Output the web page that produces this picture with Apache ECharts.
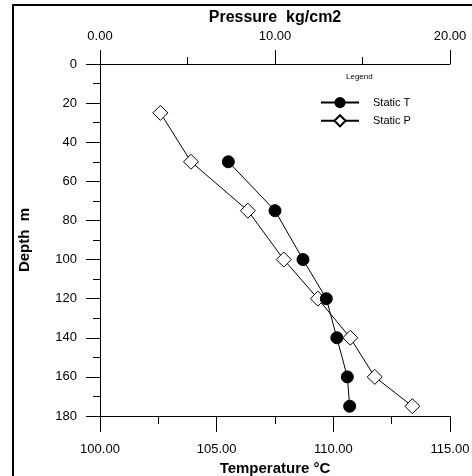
<!DOCTYPE html>
<html>
<head>
<meta charset="utf-8">
<script src="https://cdn.jsdelivr.net/npm/echarts@6/dist/echarts.min.js"></script>
<style>
html, body { margin: 0; padding: 0; background: #fff; }
#chart { width: 472px; height: 476px; }
</style>
</head>
<body>
<div id="chart"></div>
<script type="text/javascript">
// depth (m) and readings
var depthT = [50, 75, 100, 120, 140, 160, 175];
var tempT = [105.5, 107.5, 108.7, 109.7, 110.15, 110.6, 110.7];

var depthP = [25, 50, 75, 100, 120, 140, 160, 175];
var pressP = [3.45, 5.2, 8.45, 10.5, 12.45, 14.3, 15.7, 17.85];

var tempTicks = [100, 115, 5];   // min, max, step
var pressTicks = [0, 20, 10];
var depthTicks = [0, 180, 20];

var font = 'Liberation Sans, Arial, sans-serif';

function pairs(xs, ys) {
    var out = [];
    for (var i = 0; i < xs.length; i++) {
        out.push([xs[i], ys[i]]);
    }
    return out;
}

function fixed2(v) { return v.toFixed(2); }

// builds one axis, ticks outside, no grid lines
function makeAxis(opts) {
    return {
        type: 'value',
        position: opts.position,
        inverse: !!opts.inverse,
        min: opts.ticks[0],
        max: opts.ticks[1],
        interval: opts.ticks[2],
        name: opts.name,
        nameLocation: 'middle',
        nameGap: opts.nameGap,
        nameTextStyle: { color: '#000', fontWeight: 'bold', fontFamily: font, fontSize: opts.nameSize },
        splitLine: { show: false },
        axisLine: { show: true, onZero: false, lineStyle: { color: '#000', width: 1 } },
        axisTick: { show: true, inside: false, length: opts.tick, lineStyle: { color: '#000' } },
        minorTick: { show: true, splitNumber: 2, length: opts.tick / 2, lineStyle: { color: '#000' } },
        axisLabel: { color: '#000', fontSize: 13, fontFamily: font, margin: opts.margin, formatter: opts.formatter }
    };
}

var chart = echarts.init(document.getElementById('chart'));

var option = {
    animation: false,
    backgroundColor: '#fff',
    title: {
        text: 'Legend',
        left: 341,
        top: 68,
        textStyle: { fontSize: 8, fontWeight: 'normal', color: '#000', fontFamily: font }
    },
    legend: {
        orient: 'vertical',
        left: 315,
        top: 92,
        itemWidth: 38,
        itemHeight: 14,
        itemGap: 6,
        data: ['Static T', 'Static P'],
        textStyle: { fontSize: 11, color: '#000', fontFamily: font, padding: [0, 0, 0, 9] }
    },
    grid: { left: 100, right: 22, top: 64, bottom: 60, containLabel: false, outerBoundsMode: 'none' },
    xAxis: [
        makeAxis({ position: 'bottom', ticks: tempTicks, name: 'Temperature °C', nameGap: 39,
                   nameSize: 15, tick: 16, margin: 27, formatter: fixed2 }),
        makeAxis({ position: 'top', ticks: pressTicks, name: 'Pressure  kg/cm2', nameGap: 24,
                   nameSize: 16, tick: 14, margin: 21, formatter: fixed2 })
    ],
    yAxis: [
        makeAxis({ position: 'left', inverse: true, ticks: depthTicks, name: 'Depth  m', nameGap: 68,
                   nameSize: 15, tick: 14, margin: 23 })
    ],
    graphic: [
        { type: 'line', shape: { x1: 13, y1: 4, x2: 13, y2: 476 }, style: { stroke: '#000', lineWidth: 2 } },
        { type: 'line', shape: { x1: 12, y1: 5, x2: 472, y2: 5 }, style: { stroke: '#000', lineWidth: 2 } }
    ],
    series: [
        {
            name: 'Static T',
            type: 'line',
            xAxisIndex: 0,
            yAxisIndex: 0,
            z: 3,
            symbol: 'circle',
            symbolSize: 12,
            data: pairs(tempT, depthT),
            lineStyle: { color: '#000', width: 1 },
            itemStyle: { color: '#000', borderColor: '#000' }
        },
        {
            name: 'Static P',
            type: 'line',
            xAxisIndex: 1,
            yAxisIndex: 0,
            z: 2,
            symbol: 'diamond',
            symbolSize: 15,
            data: pairs(pressP, depthP),
            lineStyle: { color: '#000', width: 1 },
            itemStyle: { color: '#fff', borderColor: '#000', borderWidth: 1 }
        }
    ]
};

chart.setOption(option);
</script>
</body>
</html>
